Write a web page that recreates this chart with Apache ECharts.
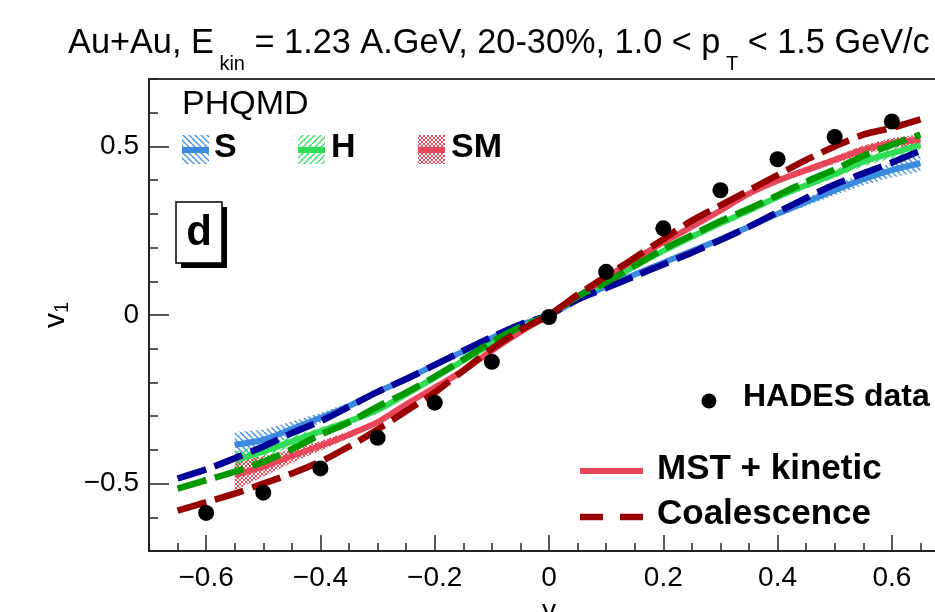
<!DOCTYPE html>
<html>
<head>
<meta charset="utf-8">
<script src="https://cdn.jsdelivr.net/npm/echarts@6/dist/echarts.min.js"></script>
<style>
html, body { margin: 0; padding: 0; background: #fff; }
#chart { width: 935px; height: 612px; }
</style>
</head>
<body>
<div id="chart"></div>
<script>
// rapidity grid of the coalescence curves
const coalY = [-0.65, -0.6, -0.55, -0.5, -0.45, -0.4, -0.35, -0.3, -0.25, -0.2, -0.15, -0.1, -0.05, 0,
  0.05, 0.1, 0.15, 0.2, 0.25, 0.3, 0.35, 0.4, 0.45, 0.5, 0.55, 0.6, 0.65]
const coalS = [-0.485, -0.458, -0.425, -0.39, -0.35, -0.315, -0.272, -0.228, -0.19, -0.148, -0.106, -0.065, -0.028, 0,
  0.046, 0.08, 0.115, 0.15, 0.185, 0.222, 0.262, 0.305, 0.347, 0.387, 0.42, 0.452, 0.487]
const coalH = [-0.515, -0.49, -0.465, -0.435, -0.398, -0.355, -0.318, -0.272, -0.23, -0.183, -0.132, -0.08, -0.035, 0,
  0.055, 0.097, 0.146, 0.195, 0.237, 0.278, 0.315, 0.355, 0.395, 0.432, 0.472, 0.505, 0.535]
const coalSM = [-0.58, -0.555, -0.53, -0.5, -0.47, -0.435, -0.39, -0.34, -0.285, -0.23, -0.165, -0.1, -0.045, 0,
  0.06, 0.115, 0.17, 0.225, 0.28, 0.325, 0.37, 0.415, 0.46, 0.5, 0.535, 0.555, 0.58]

// rapidity grid of the MST + kinetic curves (with error bands)
const mstY = [-0.55, -0.5, -0.45, -0.4, -0.35, -0.3, -0.25, -0.2, -0.15, -0.1, -0.05, 0,
  0.05, 0.1, 0.15, 0.2, 0.25, 0.3, 0.35, 0.4, 0.45, 0.5, 0.55, 0.6, 0.65]
const mstS = [-0.385, -0.37, -0.338, -0.305, -0.27, -0.228, -0.19, -0.148, -0.108, -0.068, -0.03, 0,
  0.045, 0.085, 0.12, 0.155, 0.19, 0.225, 0.262, 0.3, 0.335, 0.37, 0.403, 0.43, 0.45]
const mstH = [-0.43, -0.405, -0.375, -0.345, -0.315, -0.282, -0.235, -0.185, -0.135, -0.085, -0.038, 0,
  0.052, 0.095, 0.145, 0.19, 0.232, 0.272, 0.31, 0.35, 0.385, 0.418, 0.455, 0.48, 0.505]
const mstSM = [-0.475, -0.45, -0.418, -0.388, -0.355, -0.318, -0.265, -0.215, -0.165, -0.105, -0.05, 0,
  0.055, 0.11, 0.165, 0.215, 0.262, 0.31, 0.36, 0.398, 0.43, 0.46, 0.49, 0.51, 0.52]
const errS = [0.038, 0.03, 0.022, 0.015, 0.01, 0.008, 0.006, 0.005, 0.004, 0.004, 0.003, 0.003,
  0.003, 0.003, 0.004, 0.004, 0.005, 0.006, 0.007, 0.009, 0.012, 0.015, 0.019, 0.022, 0.025]
const errH = [0.025, 0.02, 0.015, 0.011, 0.008, 0.006, 0.005, 0.004, 0.004, 0.003, 0.003, 0.003,
  0.003, 0.003, 0.004, 0.004, 0.005, 0.006, 0.007, 0.008, 0.01, 0.012, 0.014, 0.016, 0.018]
const errSM = [0.045, 0.03, 0.02, 0.014, 0.01, 0.007, 0.006, 0.005, 0.004, 0.004, 0.003, 0.003,
  0.003, 0.003, 0.004, 0.004, 0.005, 0.006, 0.007, 0.008, 0.01, 0.011, 0.013, 0.015, 0.016]

// HADES measurement
const hadesY = [-0.6, -0.5, -0.4, -0.3, -0.2, -0.1, 0, 0.1, 0.2, 0.3, 0.4, 0.5, 0.6]
const hadesV1 = [-0.587, -0.527, -0.455, -0.364, -0.26, -0.139, -0.006, 0.128, 0.257, 0.37, 0.462, 0.528, 0.574]

// tick labels
const xTickLabels = [-0.6, -0.4, -0.2, 0, 0.2, 0.4, 0.6]
const yTickLabels = [-0.5, 0, 0.5]

const FONT = "'Liberation Sans', Arial, Helvetica, sans-serif"
const C = {
  sLight: "#3b8ae0", hLight: "#2fdc55", smLight: "#e84659",
  sDark: "#000099", hDark: "#009900", smDark: "#990000",
}

// hatch patterns like ROOT fill styles
function hatch(color, kind) {
  const c = document.createElement("canvas")
  const n = kind === "cross" ? 4 : 6
  c.width = n
  c.height = n
  const g = c.getContext("2d")
  g.strokeStyle = color
  g.lineWidth = kind === "cross" ? 1 : 1.3
  g.beginPath()
  for (let k = -n; k <= n; k += n) {
    if (kind === "back" || kind === "cross") {
      g.moveTo(k, 0)
      g.lineTo(k + n, n)
    }
    if (kind === "fwd" || kind === "cross") {
      g.moveTo(k, n)
      g.lineTo(k + n, 0)
    }
  }
  g.stroke()
  return { image: c, repeat: "repeat" }
}
const patS = hatch(C.sLight, "back")
const patH = hatch(C.hLight, "fwd")
const patSM = hatch(C.smLight, "cross")

const pairs = (xs, ys) => xs.map((x, i) => [x, ys[i]])
const fmt = (v) => (Math.abs(v) < 1e-9 ? "0" : v < 0 ? "\u2212" + Math.abs(v).toFixed(1) : v.toFixed(1))

// error band as a chain of quads between neighbouring points
function band(mid, err, pat) {
  const rows = mstY.slice(0, -1).map((x, i) => [
    x, mid[i] - err[i], mid[i] + err[i],
    mstY[i + 1], mid[i + 1] - err[i + 1], mid[i + 1] + err[i + 1],
  ])
  return {
    type: "custom", silent: true, clip: true, z: 1,
    data: rows,
    encode: { x: [0, 3], y: [1, 2, 4, 5] },
    renderItem: (params, api) => {
      const a = api.coord([api.value(0), api.value(1)])
      const b = api.coord([api.value(0), api.value(2)])
      const c = api.coord([api.value(3), api.value(5)])
      const d = api.coord([api.value(3), api.value(4)])
      return { type: "polygon", shape: { points: [a, b, c, d] }, style: { fill: pat } }
    },
  }
}

function curve(xs, ys, color, dashed, z) {
  return {
    type: "line", symbol: "none", smooth: 0.3, silent: true,
    data: pairs(xs, ys),
    lineStyle: { color, width: dashed ? 6.5 : 6, type: dashed ? [30, 9] : "solid", cap: "butt" },
    z,
  }
}

const chart = echarts.init(document.getElementById("chart"))

const axisText = { color: "#000", fontSize: 28, fontFamily: FONT }

const option = {
  backgroundColor: "#fff",
  animation: false,
  grid: {
    left: 149, top: 79, right: -14, bottom: 61,
    outerBoundsMode: "none", containLabel: false,
    show: true, borderColor: "#333", borderWidth: 2,
  },
  xAxis: [
    {
      type: "value", min: -0.7, max: 0.7, interval: 0.05,
      axisLine: { onZero: false, lineStyle: { color: "#222", width: 2 } },
      axisTick: { inside: true, length: 8, lineStyle: { color: "#222", width: 1.5 } },
      axisLabel: { customValues: xTickLabels, formatter: fmt, margin: 13, ...axisText },
      splitLine: { show: false },
      name: "y", nameLocation: "middle", nameGap: 46,
      nameTextStyle: { ...axisText },
    },
    {
      type: "value", min: -0.7, max: 0.7, position: "bottom",
      axisLine: { show: false, onZero: false },
      axisTick: { inside: true, length: 16, customValues: xTickLabels, lineStyle: { color: "#222", width: 1.5 } },
      axisLabel: { show: false },
      splitLine: { show: false },
    },
  ],
  yAxis: [
    {
      type: "value", min: -0.7, max: 0.7, interval: 0.1,
      axisLine: { show: true, onZero: false, lineStyle: { color: "#222", width: 2 } },
      axisTick: { show: true, inside: true, length: 9, lineStyle: { color: "#222", width: 1.5 } },
      axisLabel: { customValues: yTickLabels, formatter: fmt, margin: 10, ...axisText },
      splitLine: { show: false },
      name: "{v|v}{s|1}", nameLocation: "middle", nameRotate: 90, nameGap: 58,
      nameTextStyle: {
        rich: {
          v: { fontSize: 30, fontFamily: FONT, color: "#000" },
          s: { fontSize: 20, fontFamily: FONT, color: "#000", padding: [14, 0, 0, 0] },
        },
      },
    },
    {
      type: "value", min: -0.7, max: 0.7, position: "left",
      axisLine: { show: false, onZero: false },
      axisTick: { show: true, inside: true, length: 20, customValues: yTickLabels, lineStyle: { color: "#222", width: 1.5 } },
      axisLabel: { show: false },
      splitLine: { show: false },
    },
  ],
  series: [
    band(mstS, errS, patS),
    band(mstH, errH, patH),
    band(mstSM, errSM, patSM),
    curve(mstY, mstS, C.sLight, false, 3),
    curve(mstY, mstH, C.hLight, false, 3),
    curve(mstY, mstSM, C.smLight, false, 3),
    curve(coalY, coalS, C.sDark, true, 4),
    curve(coalY, coalH, C.hDark, true, 4),
    curve(coalY, coalSM, C.smDark, true, 4),
    {
      name: "HADES data", type: "scatter", symbol: "circle", symbolSize: 16,
      data: pairs(hadesY, hadesV1),
      itemStyle: { color: "#000", opacity: 1 },
      z: 6,
    },
  ],
  graphic: [
    // title with subscripts
    {
      type: "text", left: 68, top: 27,
      style: {
        text: "{a|Au+Au, E}{s| kin}{a| = 1.23 A.GeV, 20-30%, 1.0 < p}{s| T}{a| < 1.5 GeV/c}",
        rich: {
          a: { fontSize: 34.3, fontFamily: FONT, fill: "#000" },
          s: { fontSize: 20, fontFamily: FONT, fill: "#000", padding: [40, 0, 0, 0] },
        },
      },
    },
    // PHQMD legend
    { type: "text", left: 182, top: 88, style: { text: "PHQMD", fontSize: 34, fontFamily: FONT, fill: "#000" } },
    { type: "rect", shape: { x: 182, y: 135, width: 27, height: 29 }, style: { fill: patS } },
    { type: "rect", shape: { x: 182, y: 147, width: 27, height: 6 }, style: { fill: C.sLight } },
    { type: "text", left: 214, top: 131, style: { text: "S", fontSize: 34, fontWeight: "bold", fontFamily: FONT, fill: "#000" } },
    { type: "rect", shape: { x: 298, y: 135, width: 27, height: 29 }, style: { fill: patH } },
    { type: "rect", shape: { x: 298, y: 147, width: 27, height: 6 }, style: { fill: C.hLight } },
    { type: "text", left: 331, top: 131, style: { text: "H", fontSize: 34, fontWeight: "bold", fontFamily: FONT, fill: "#000" } },
    { type: "rect", shape: { x: 418, y: 135, width: 27, height: 29 }, style: { fill: patSM } },
    { type: "rect", shape: { x: 418, y: 147, width: 27, height: 6 }, style: { fill: C.smLight } },
    { type: "text", left: 451, top: 131, style: { text: "SM", fontSize: 34, fontWeight: "bold", fontFamily: FONT, fill: "#000" } },
    // panel label
    { type: "rect", shape: { x: 181, y: 207, width: 46, height: 61 }, style: { fill: "#000" } },
    { type: "rect", shape: { x: 176, y: 202, width: 46, height: 61 }, style: { fill: "#fff", stroke: "#000", lineWidth: 1.5 } },
    { type: "text", x: 199, y: 233, style: { text: "d", fontSize: 42, fontWeight: "bold", fontFamily: FONT, fill: "#000", align: "center", verticalAlign: "middle" } },
    // data / model legend
    { type: "circle", shape: { cx: 709, cy: 401, r: 7.5 }, style: { fill: "#000" } },
    { type: "text", x: 743, y: 397, style: { text: "HADES data", fontSize: 32, fontWeight: "bold", fontFamily: FONT, fill: "#000", verticalAlign: "middle" } },
    { type: "line", shape: { x1: 580, y1: 471, x2: 643, y2: 471 }, style: { stroke: C.smLight, lineWidth: 6 } },
    { type: "text", x: 657, y: 469, style: { text: "MST + kinetic", fontSize: 35, fontWeight: "bold", fontFamily: FONT, fill: "#000", verticalAlign: "middle" } },
    { type: "line", shape: { x1: 580, y1: 517, x2: 643, y2: 517 }, style: { stroke: C.smDark, lineWidth: 6.5, lineDash: [23, 17] } },
    { type: "text", x: 657, y: 514, style: { text: "Coalescence", fontSize: 35, fontWeight: "bold", fontFamily: FONT, fill: "#000", verticalAlign: "middle" } },
  ],
}

chart.setOption(option)
</script>
</body>
</html>
